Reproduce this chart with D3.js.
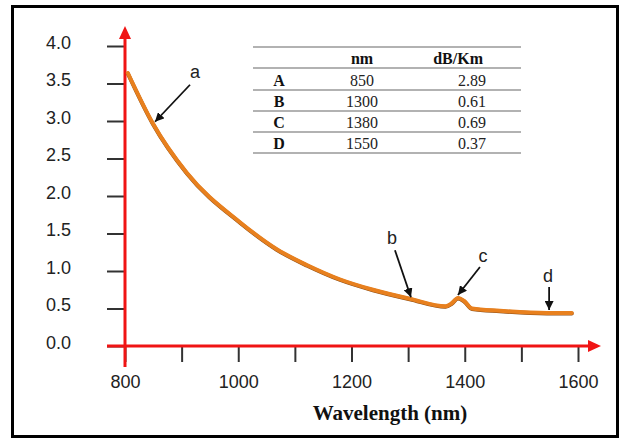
<!DOCTYPE html>
<html><head><meta charset="utf-8">
<script src="https://cdn.jsdelivr.net/npm/d3@7"></script>
<style>body{margin:0;background:#fff}svg{display:block}</style>
</head><body>
<script>
// ---- data ----
const wavelength = [805, 849, 909, 1003, 1068, 1121, 1179, 1238, 1303, 1366, 1377, 1388, 1399, 1413, 1462, 1545, 1589];
const attenuation = [3.64, 2.97, 2.31, 1.65, 1.29, 1.08, 0.89, 0.75, 0.63, 0.53, 0.57, 0.64, 0.60, 0.50, 0.47, 0.44, 0.44];
const yTicks = [0, 0.5, 1, 1.5, 2, 2.5, 3, 3.5, 4];
const xTicks = [800, 900, 1000, 1100, 1200, 1300, 1400, 1500, 1600];
const xLabels = [800, 1000, 1200, 1400, 1600];
const annLabels = ["a", "b", "c", "d"];
const annNm = [853, 1305, 1388, 1549];
const annVal = [2.99, 0.65, 0.68, 0.48];
const tableHeader = ["", "nm", "dB/Km"];
const rowNames = ["A", "B", "C", "D"];
const rowNm = ["850", "1300", "1380", "1550"];
const rowDb = ["2.89", "0.61", "0.69", "0.37"];
const xTitle = "Wavelength (nm)";

// ---- layout ----
const W = 620, H = 440;
const svg = d3.select("body").append("svg").attr("width", W).attr("height", H);
svg.append("rect").attr("width", W).attr("height", H).attr("fill", "#fff");
svg.append("rect").attr("x", 12.5).attr("y", 6.5).attr("width", 605).attr("height", 430)
  .attr("fill", "none").attr("stroke", "#000").attr("stroke-width", 3);

const x = d3.scaleLinear().domain([800, 1600]).range([125, 578]);
const y = d3.scaleLinear().domain([0, 4]).range([346, 46]);
const red = "#f01414";
const sans = "'Liberation Sans', Arial, sans-serif";
const serif = "'Liberation Serif', 'Times New Roman', serif";

// y axis ticks
const gy = svg.append("g").attr("transform", "translate(125,0)")
  .call(d3.axisLeft(y).tickValues(yTicks).tickSize(18).tickPadding(36).tickFormat(d3.format(".1f")));
gy.select(".domain").remove();
gy.selectAll(".tick line").attr("stroke", "#333").attr("stroke-width", 2);
gy.selectAll(".tick text").attr("font-family", sans).attr("font-size", 18).attr("fill", "#222").attr("dy", "0.12em");

// x axis ticks
const gx = svg.append("g").attr("transform", "translate(0,346)")
  .call(d3.axisBottom(x).tickValues(xTicks).tickSize(16).tickPadding(13)
    .tickFormat(d => xLabels.includes(d) ? d : ""));
gx.select(".domain").remove();
gx.selectAll(".tick line").attr("stroke", "#333").attr("stroke-width", 2);
gx.selectAll(".tick text").attr("font-family", sans).attr("font-size", 18).attr("fill", "#222");

// red axes with arrows
svg.append("line").attr("x1", x(800)).attr("x2", x(800)).attr("y1", 367).attr("y2", 37)
  .attr("stroke", red).attr("stroke-width", 3);
svg.append("path").attr("d", `M${x(800)},26 L${x(800) - 6},39 L${x(800) + 6},39 Z`).attr("fill", red);
svg.append("line").attr("x1", 107).attr("x2", 590).attr("y1", y(0)).attr("y2", y(0))
  .attr("stroke", red).attr("stroke-width", 3);
svg.append("path").attr("d", `M601,${y(0)} L588,${y(0) - 6} L588,${y(0) + 6} Z`).attr("fill", red);

// curve
const pts = wavelength.map((w, i) => [w, attenuation[i]]);
const line = d3.line().x(d => x(d[0])).y(d => y(d[1])).curve(d3.curveMonotoneX);
svg.append("path").datum(pts).attr("d", line).attr("fill", "none")
  .attr("stroke", "#8a4d18").attr("stroke-width", 4).attr("stroke-linecap", "round").attr("transform", "translate(0,0.5)");
svg.append("path").datum(pts).attr("d", line).attr("fill", "none")
  .attr("stroke", "#e8801e").attr("stroke-width", 4).attr("stroke-linecap", "round").attr("stroke-linejoin", "round");

// annotations
const defs = svg.append("defs");
defs.append("marker").attr("id", "ah").attr("viewBox", "0 0 10 10").attr("refX", 10).attr("refY", 5)
  .attr("markerWidth", 9).attr("markerHeight", 9).attr("markerUnits", "userSpaceOnUse").attr("orient", "auto")
  .append("path").attr("d", "M0,0 L10,5 L0,10 Z").attr("fill", "#111");
const tailOff = [[35, -37], [-16, -47], [22, -28], [0, -23]];
const labOff = [[40, -44], [-19, -53], [25, -33], [-1, -28]];
annLabels.forEach((lab, i) => {
  const tx = x(annNm[i]), ty = y(annVal[i]);
  svg.append("line").attr("x1", tx + tailOff[i][0]).attr("y1", ty + tailOff[i][1])
    .attr("x2", tx).attr("y2", ty).attr("stroke", "#111").attr("stroke-width", 1.8).attr("marker-end", "url(#ah)");
  svg.append("text").attr("x", tx + labOff[i][0]).attr("y", ty + labOff[i][1])
    .attr("text-anchor", "middle").attr("font-family", sans).attr("font-size", 18).attr("fill", "#222").text(lab);
});

// table
const ruleYs = [47, 68, 90, 111, 132, 153];
ruleYs.forEach(ry => svg.append("line").attr("x1", 253).attr("x2", 521).attr("y1", ry).attr("y2", ry)
  .attr("stroke", "#999").attr("stroke-width", 1.5));
svg.append("text").attr("x", 362).attr("y", 64).attr("text-anchor", "middle").attr("font-family", serif)
  .attr("font-weight", "bold").attr("font-size", 16).attr("fill", "#111").text(tableHeader[1]);
svg.append("text").attr("x", 483).attr("y", 64).attr("text-anchor", "end").attr("font-family", serif)
  .attr("font-weight", "bold").attr("font-size", 16).attr("fill", "#111").text(tableHeader[2]);
rowNames.forEach((r, i) => {
  const by = 86 + i * 21;
  svg.append("text").attr("x", 279).attr("y", by).attr("text-anchor", "middle").attr("font-family", serif)
    .attr("font-weight", "bold").attr("font-size", 16).attr("fill", "#111").text(r);
  svg.append("text").attr("x", 362).attr("y", by).attr("text-anchor", "middle").attr("font-family", serif)
    .attr("font-size", 16).attr("fill", "#222").text(rowNm[i]);
  svg.append("text").attr("x", 486).attr("y", by).attr("text-anchor", "end").attr("font-family", serif)
    .attr("font-size", 16).attr("fill", "#222").text(rowDb[i]);
});

// x title
svg.append("text").attr("x", 390).attr("y", 420).attr("text-anchor", "middle").attr("font-family", serif)
  .attr("font-weight", "bold").attr("font-size", 21).attr("fill", "#111").text(xTitle);
</script>
</body></html>
